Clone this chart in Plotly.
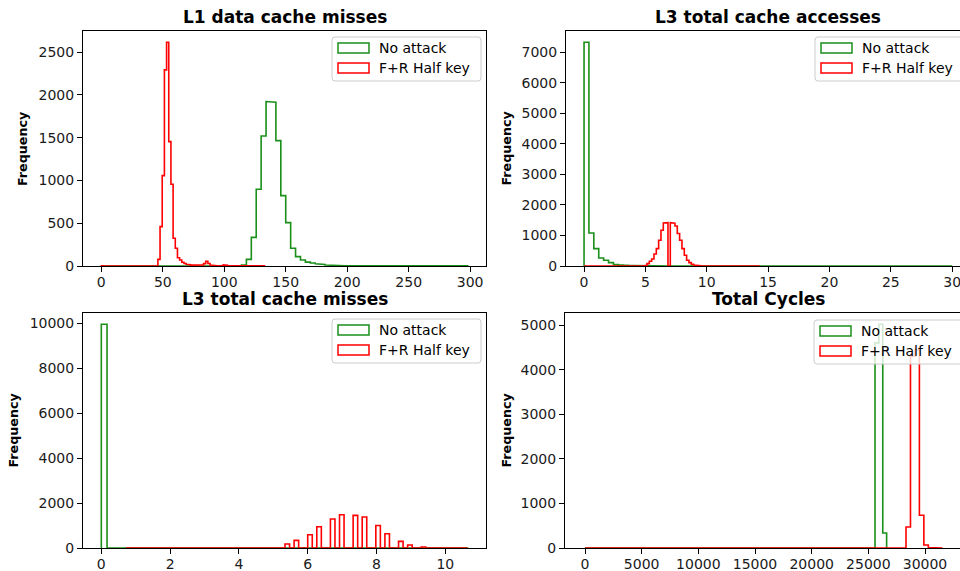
import numpy as np
import plotly.graph_objects as go

FIG_W, FIG_H = 960, 571
FONT = "DejaVu Sans"
GREEN = "#1a8f1a"
RED = "#ff0000"

series_labels = ["No attack", "F+R Half key"]
panel_titles = ["L1 data cache misses", "L3 total cache accesses",
                "L3 total cache misses", "Total Cycles"]

# ---- L1 data cache misses: bin-edge range and counts per bin ----
l1_no_attack_range = (2, 298)
l1_no_attack_counts = [
    1, 0, 0, 0, 0, 0, 0, 0, 0, 0,
    0, 0, 0, 0, 0, 0, 0, 0, 0, 0,
    0, 0, 0, 0, 0, 0, 0, 3, 10, 78,
    335, 897, 1520, 1922, 1915, 1466, 822, 507, 207, 109,
    70, 45, 35, 25, 18, 12, 8, 6, 4, 3,
    2, 2, 1, 0, 0, 0, 0, 0, 0, 0,
    0, 0, 0, 0, 0, 0, 0, 0, 0, 0,
    0, 0, 0, 1,
]
l1_half_key_range = (0, 132.7)
l1_half_key_counts = [
    2, 0, 0, 0, 0, 0, 0, 0, 0, 0,
    0, 0, 0, 0, 0, 0, 0, 0, 0, 0,
    0, 0, 0, 0, 0, 0, 78, 460, 1056, 2292,
    2616, 1454, 955, 324, 207, 97, 70, 43, 30, 20,
    14, 10, 8, 6, 5, 6, 12, 28, 55, 30,
    12, 6, 4, 3, 2, 6, 12, 8, 3, 2,
    1, 0, 0, 0, 0, 0, 0, 0, 0, 0,
    0, 0, 0, 0, 1,
]

# ---- L3 total cache accesses ----
l3acc_no_attack_range = (0, 29.94)
l3acc_no_attack_counts = [
    7325, 1082, 570, 262, 187, 111, 46, 30, 22, 14,
    10, 8, 6, 5, 4, 3, 4, 3, 2, 3,
    2, 2, 1, 2, 1, 1, 0, 1, 0, 1,
    0, 0, 1, 0, 0, 0, 0, 1, 0, 0,
    0, 0, 0, 0, 0, 0, 0, 0, 0, 0,
    0, 0, 0, 0, 0, 0, 0, 0, 0, 0,
    0, 0, 0, 0, 0, 0, 0, 0, 0, 0,
    0, 0, 0, 0, 1,
]
l3acc_half_key_range = (0, 14.25)
l3acc_half_key_counts = [
    1, 0, 0, 0, 0, 0, 0, 0, 0, 0,
    0, 0, 0, 0, 0, 0, 0, 0, 0, 0,
    0, 0, 0, 0, 0, 0, 20, 79, 154, 230,
    394, 570, 843, 1170, 1410, 1417, 0, 1417, 1400, 1311,
    1062, 843, 570, 351, 187, 111, 56, 30, 15, 8,
    5, 3, 2, 1, 0, 0, 0, 0, 0, 0,
    0, 0, 0, 0, 6, 3, 0, 0, 0, 0,
    0, 0, 0, 0, 1,
]

# ---- L3 total cache misses ----
l3miss_no_attack_range = (0, 10.65)
l3miss_no_attack_counts = [
    9955, 0, 0, 0, 0, 0, 0, 0, 0, 0,
    0, 0, 0, 0, 0, 0, 0, 0, 0, 0,
    0, 0, 0, 0, 0, 0, 0, 0, 0, 0,
    0, 0, 0, 0, 0, 0, 0, 0, 0, 0,
    0, 0, 0, 0, 0, 0, 0, 0, 0, 0,
    0, 0, 0, 0, 0, 0, 0, 0, 0, 0,
    0, 0, 0, 1,
]
l3miss_half_key_range = (0.72, 10.62)
l3miss_half_key_counts = [
    1, 0, 0, 0, 0, 0, 0, 0, 0, 0,
    0, 0, 0, 0, 0, 0, 0, 0, 0, 0,
    0, 0, 0, 0, 0, 0, 0, 0, 0, 0,
    20, 0, 20, 0, 0, 178, 0, 338, 0, 0,
    591, 0, 947, 0, 0, 1289, 0, 1480, 0, 0,
    1449, 0, 1378, 0, 0, 1004, 0, 636, 0, 0,
    293, 0, 133, 0, 0, 44, 0, 10, 0, 0,
    3, 0, 0, 0, 1,
]

# ---- Total cycles ----
cycles_no_attack_range = (0, 26613.6)
cycles_no_attack_counts = [
    1, 0, 0, 0, 0, 0, 0, 0, 0, 0,
    0, 0, 0, 0, 0, 0, 0, 0, 0, 0,
    0, 0, 0, 0, 0, 0, 0, 0, 0, 0,
    0, 0, 0, 0, 0, 0, 0, 0, 0, 0,
    0, 0, 0, 0, 0, 0, 0, 0, 0, 0,
    0, 0, 0, 0, 0, 0, 0, 0, 0, 0,
    0, 0, 0, 0, 0, 0, 0, 0, 0, 0,
    0, 0, 0, 0, 0, 4600, 5020, 337,
]
cycles_half_key_range = (0, 31472)
cycles_half_key_counts = [
    2, 0, 0, 0, 0, 0, 0, 0, 0, 0,
    0, 0, 0, 0, 0, 0, 0, 0, 0, 0,
    0, 0, 0, 0, 0, 0, 0, 0, 0, 0,
    0, 0, 0, 0, 0, 0, 0, 0, 0, 0,
    0, 0, 0, 0, 0, 0, 0, 0, 0, 0,
    0, 0, 0, 0, 0, 0, 0, 0, 0, 0,
    0, 0, 0, 0, 0, 0, 0, 0, 0, 0,
    0, 0, 472, 4300, 4450, 733, 67, 10, 3, 1,
]

# ---- tick values ----
l1_xticks = [0, 50, 100, 150, 200, 250, 300]
l1_yticks = [0, 500, 1000, 1500, 2000, 2500]
l3acc_xticks = [0, 5, 10, 15, 20, 25, 30]
l3acc_yticks = [0, 1000, 2000, 3000, 4000, 5000, 6000, 7000]
l3miss_xticks = [0, 2, 4, 6, 8, 10]
l3miss_yticks = [0, 2000, 4000, 6000, 8000, 10000]
cycles_xticks = [0, 5000, 10000, 15000, 20000, 25000, 30000]
cycles_yticks = [0, 1000, 2000, 3000, 4000, 5000]


def step_outline(rng, counts):
    """Outline of a step histogram: edges from the range, one level per bin."""
    edges = np.linspace(rng[0], rng[1], len(counts) + 1)
    xs, ys = [edges[0]], [0]
    for i, c in enumerate(counts):
        xs += [edges[i], edges[i + 1]]
        ys += [c, c]
    xs.append(edges[-1])
    ys.append(0)
    return xs, ys


def padded(lo, hi, frac=0.05):
    w = hi - lo
    return [lo - frac * w, hi + frac * w]


panels = [
    dict(title=panel_titles[0], box=(83, 486, 31, 266),
         green=(l1_no_attack_range, l1_no_attack_counts),
         red=(l1_half_key_range, l1_half_key_counts),
         xrange=padded(0, 298), xticks=l1_xticks, yticks=l1_yticks,
         ylab_x=22.5, legend=(332, 37), cut=False),
    dict(title=panel_titles[1], box=(566, 960, 31, 266),
         green=(l3acc_no_attack_range, l3acc_no_attack_counts),
         red=(l3acc_half_key_range, l3acc_half_key_counts),
         xrange=[-1.47, 30.64], xticks=l3acc_xticks, yticks=l3acc_yticks,
         ylab_x=506, legend=(815, 37), cut=True, title_cx=768),
    dict(title=panel_titles[2], box=(83, 486, 313, 548),
         green=(l3miss_no_attack_range, l3miss_no_attack_counts),
         red=(l3miss_half_key_range, l3miss_half_key_counts),
         xrange=padded(0, 10.65), xticks=l3miss_xticks, yticks=l3miss_yticks,
         ylab_x=13, legend=(332, 319), cut=False),
    dict(title=panel_titles[3], box=(565, 960, 313, 548),
         green=(cycles_no_attack_range, cycles_no_attack_counts),
         red=(cycles_half_key_range, cycles_half_key_counts),
         xrange=[-1765, 33088], xticks=cycles_xticks, yticks=cycles_yticks,
         ylab_x=506, legend=(814, 320), cut=True, title_cx=768),
]


def px_x(v):
    return v / FIG_W


def px_y(v):
    return 1 - v / FIG_H


fig = go.Figure()
shapes, annotations = [], []

for i, p in enumerate(panels, start=1):
    xa = "x" if i == 1 else f"x{i}"
    ya = "y" if i == 1 else f"y{i}"
    x0, x1, y0, y1 = p["box"]

    ymax = max(max(p["green"][1]), max(p["red"][1]))
    for (rng, counts), color, name in ((p["green"], GREEN, series_labels[0]),
                                       (p["red"], RED, series_labels[1])):
        xs, ys = step_outline(rng, counts)
        fig.add_trace(go.Scatter(x=xs, y=ys, mode="lines", name=name,
                                 line=dict(color=color, width=1.6),
                                 xaxis=xa, yaxis=ya, showlegend=False,
                                 hoverinfo="skip"))

    axis_common = dict(showgrid=False, zeroline=False, showline=True,
                       linecolor="black", linewidth=1, ticks="outside",
                       ticklen=5, tickwidth=1, tickcolor="black",
                       tickfont=dict(family=FONT, size=14, color="#1a1a1a"),
                       ticklabeloverflow="allow",
                       automargin=False, fixedrange=True)
    fig.layout[f"xaxis{'' if i == 1 else i}"] = dict(
        axis_common, domain=[px_x(x0), px_x(x1)], range=p["xrange"],
        tickmode="array", tickvals=p["xticks"],
        ticktext=[str(t) for t in p["xticks"]],
        ticklabelstandoff=-2, mirror=True, anchor=ya)
    fig.layout[f"yaxis{'' if i == 1 else i}"] = dict(
        axis_common, domain=[px_y(y1), px_y(y0)], range=[0, 1.05 * ymax],
        tickmode="array", tickvals=p["yticks"],
        ticktext=[str(t) for t in p["yticks"]],
        mirror=not p["cut"], anchor=xa)

    # title
    cx = p.get("title_cx", (x0 + x1) / 2)
    annotations.append(dict(
        text=f"<b>{p['title']}</b>", x=px_x(cx), y=px_y(y0 - 14),
        xref="paper", yref="paper", xanchor="center", yanchor="middle",
        showarrow=False, font=dict(family=FONT, size=17, color="black")))
    # y label
    annotations.append(dict(
        text="<b>Frequency</b>", x=px_x(p["ylab_x"]), y=px_y((y0 + y1) / 2),
        xref="paper", yref="paper", xanchor="center", yanchor="middle",
        textangle=-90, showarrow=False,
        font=dict(family=FONT, size=12.7, color="black")))

    # legend box
    lx, ly = p["legend"]
    w, h, r = 149, 44, 3
    rx, ry = r / FIG_W, r / FIG_H
    L, R = px_x(lx), px_x(lx + w)
    T, B = px_y(ly), px_y(ly + h)
    path = (f"M{L + rx},{T} L{R - rx},{T} Q{R},{T} {R},{T - ry} "
            f"L{R},{B + ry} Q{R},{B} {R - rx},{B} L{L + rx},{B} "
            f"Q{L},{B} {L},{B + ry} L{L},{T - ry} Q{L},{T} {L + rx},{T} Z")
    shapes.append(dict(type="path", path=path, xref="paper", yref="paper",
                       fillcolor="rgba(255,255,255,0.8)",
                       line=dict(color="#cccccc", width=1), layer="above"))
    for j, (color, label) in enumerate(((GREEN, series_labels[0]),
                                        (RED, series_labels[1]))):
        top = ly + 6 + 20 * j
        shapes.append(dict(type="rect", xref="paper", yref="paper",
                           x0=px_x(lx + 6), x1=px_x(lx + 37),
                           y0=px_y(top + 10), y1=px_y(top),
                           line=dict(color=color, width=1.5),
                           fillcolor="rgba(0,0,0,0)", layer="above"))
        annotations.append(dict(
            text=label, x=px_x(lx + 45), y=px_y(top + 5), xref="paper",
            yref="paper", xanchor="left", yanchor="middle", showarrow=False,
            font=dict(family=FONT, size=14, color="black")))

fig.update_layout(width=FIG_W, height=FIG_H,
                  margin=dict(l=0, r=0, t=0, b=0, pad=0),
                  paper_bgcolor="white", plot_bgcolor="white",
                  showlegend=False, shapes=shapes, annotations=annotations)

fig.write_html("out.html")
